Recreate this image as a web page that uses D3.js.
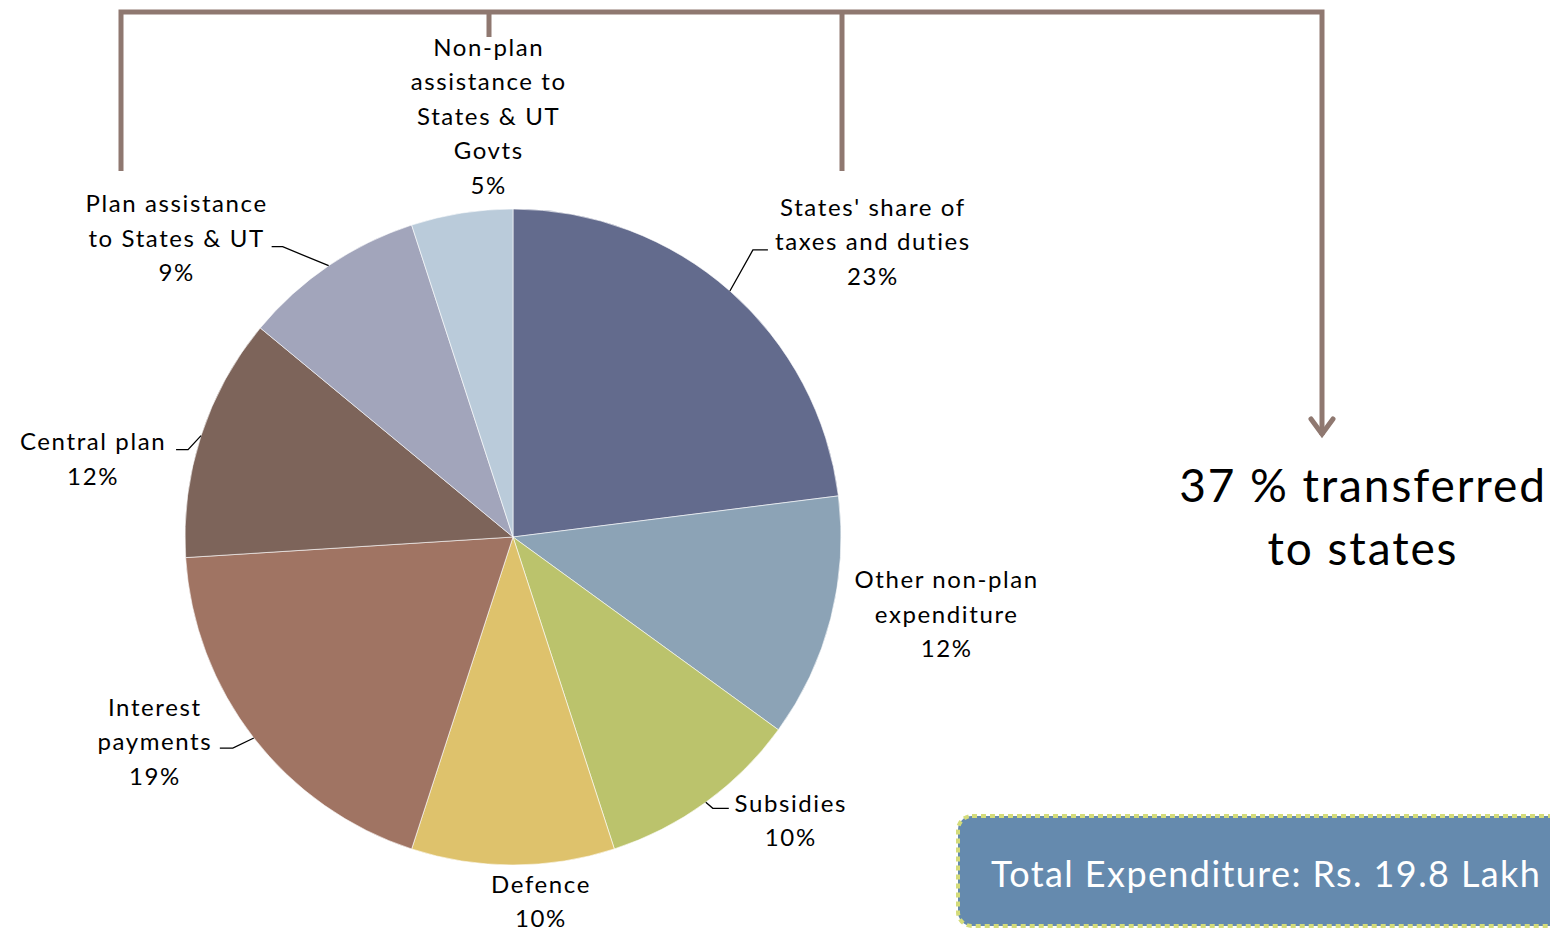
<!DOCTYPE html>
<html>
<head>
<meta charset="utf-8">
<script src="https://cdn.jsdelivr.net/npm/d3@7"></script>
<style>
  html, body { margin: 0; padding: 0; background: #fff; }
  svg { display: block; font-family: Lato, 'Noto Sans', sans-serif; }
</style>
</head>
<body>
<div id="chart"></div>
<script>
// data (share of total expenditure, %)
var categories = [
  ["States' share of", 'taxes and duties'],
  ['Other non-plan', 'expenditure'],
  ['Subsidies'],
  ['Defence'],
  ['Interest', 'payments'],
  ['Central plan'],
  ['Plan assistance', 'to States & UT'],
  ['Non-plan', 'assistance to', 'States & UT', 'Govts']
];
var values = [23, 12, 10, 10, 19, 12, 9, 5];
var transferredNote = ['37 % transferred', 'to states'];
var totalNote = 'Total Expenditure: Rs. 19.8 Lakh Crore';

var colors = ['#636b8d', '#8ca3b6', '#bbc36c', '#dec26c', '#a07463', '#7d645a', '#a2a5bb', '#bacbda'];

var width = 1550;
var height = 931;
var center = { x: 513, y: 537 };
var radius = 328;
var fontSize = 24;
var lineGap = 34.5;

// label block offset from the slice's outer mid point: [dx, dy of first line]
var labelOffsets = [[143, -84], [116, -39], [85, 1], [28, 19], [-99, -31], [-108, 6], [-152, -62], [27, -166]];
// leader lines: [elbow, end] relative to the outer mid point, null = none
var leaders = [
  [[23, -41], [38, -41]],
  null,
  [[7, 6], [23, 6]],
  null,
  [[-21, 10], [-34, 10]],
  [[-13, 14], [-25, 14]],
  [[-46, -19], [-57, -19]],
  null
];

document.addEventListener('DOMContentLoaded', init, false);

function init() {
  var svg = d3.select('#chart')
    .append('svg')
      .attr('width', width)
      .attr('height', height);

  drawBracket(svg);
  drawPie(svg);
  drawNotes(svg);
}

function drawPie(svg) {
  var pie = d3.pie().sort(null).value(function (d) { return d; });
  var arc = d3.arc().innerRadius(0).outerRadius(radius);
  var arcs = pie(values);

  var g = svg.append('g')
    .attr('transform', 'translate(' + center.x + ',' + center.y + ')');

  g.selectAll('path.slice')
      .data(arcs)
      .enter()
    .append('path')
      .attr('class', 'slice')
      .attr('d', arc)
      .attr('fill', function (d, i) { return colors[i]; })
      .attr('stroke', '#fff')
      .attr('stroke-width', 0.6);

  arcs.forEach(function (d, i) {
    var mid = (d.startAngle + d.endAngle) / 2;
    var px = radius * Math.sin(mid);
    var py = -radius * Math.cos(mid);

    if (leaders[i]) {
      var l = leaders[i];
      g.append('path')
        .attr('d', d3.line()([[px, py], [px + l[0][0], py + l[0][1]], [px + l[1][0], py + l[1][1]]]))
        .attr('fill', 'none')
        .attr('stroke', '#000')
        .attr('stroke-width', 1.3);
    }

    var lines = categories[i].concat([d3.format('.0f')(values[i]) + '%']);
    var text = g.append('text')
      .attr('text-anchor', 'middle')
      .attr('font-size', fontSize)
      .attr('letter-spacing', 1.6)
      .attr('fill', '#000');

    lines.forEach(function (t, k) {
      text.append('tspan')
        .attr('x', px + labelOffsets[i][0])
        .attr('y', py + labelOffsets[i][1] + k * lineGap + fontSize * 0.36)
        .text(t);
    });
  });
}

function drawBracket(svg) {
  var c = '#8f7870';
  var top = 12;
  var xs = [121, 489, 842, 1322];
  var path = 'M' + xs[0] + ',171 V' + top + ' H' + xs[3] + ' V435' +
    ' M' + xs[1] + ',' + top + ' V37' +
    ' M' + xs[2] + ',' + top + ' V171';

  svg.append('path')
    .attr('d', path)
    .attr('fill', 'none')
    .attr('stroke', c)
    .attr('stroke-width', 5);

  svg.append('path')
    .attr('d', 'M1311,419 L1322,434 L1333,419')
    .attr('fill', 'none')
    .attr('stroke', c)
    .attr('stroke-width', 5)
    .attr('stroke-linecap', 'round');
}

function drawNotes(svg) {
  var note = svg.append('text')
    .attr('text-anchor', 'middle')
    .attr('font-size', 46)
    .attr('letter-spacing', 1.9)
    .attr('fill', '#000');

  transferredNote.forEach(function (t, k) {
    note.append('tspan')
      .attr('x', 1363)
      .attr('y', 502 + k * 63)
      .text(t);
  });

  svg.append('rect')
    .attr('x', 958)
    .attr('y', 816)
    .attr('width', 640)
    .attr('height', 110)
    .attr('rx', 14)
    .attr('fill', '#658aae')
    .attr('stroke', '#d4dc7a')
    .attr('stroke-width', 4)
    .attr('stroke-dasharray', '5,4');

  svg.append('text')
    .attr('x', 991)
    .attr('y', 887)
    .attr('font-size', 36)
    .attr('letter-spacing', 1.4)
    .attr('fill', '#fff')
    .text(totalNote);
}
</script>
</body>
</html>
